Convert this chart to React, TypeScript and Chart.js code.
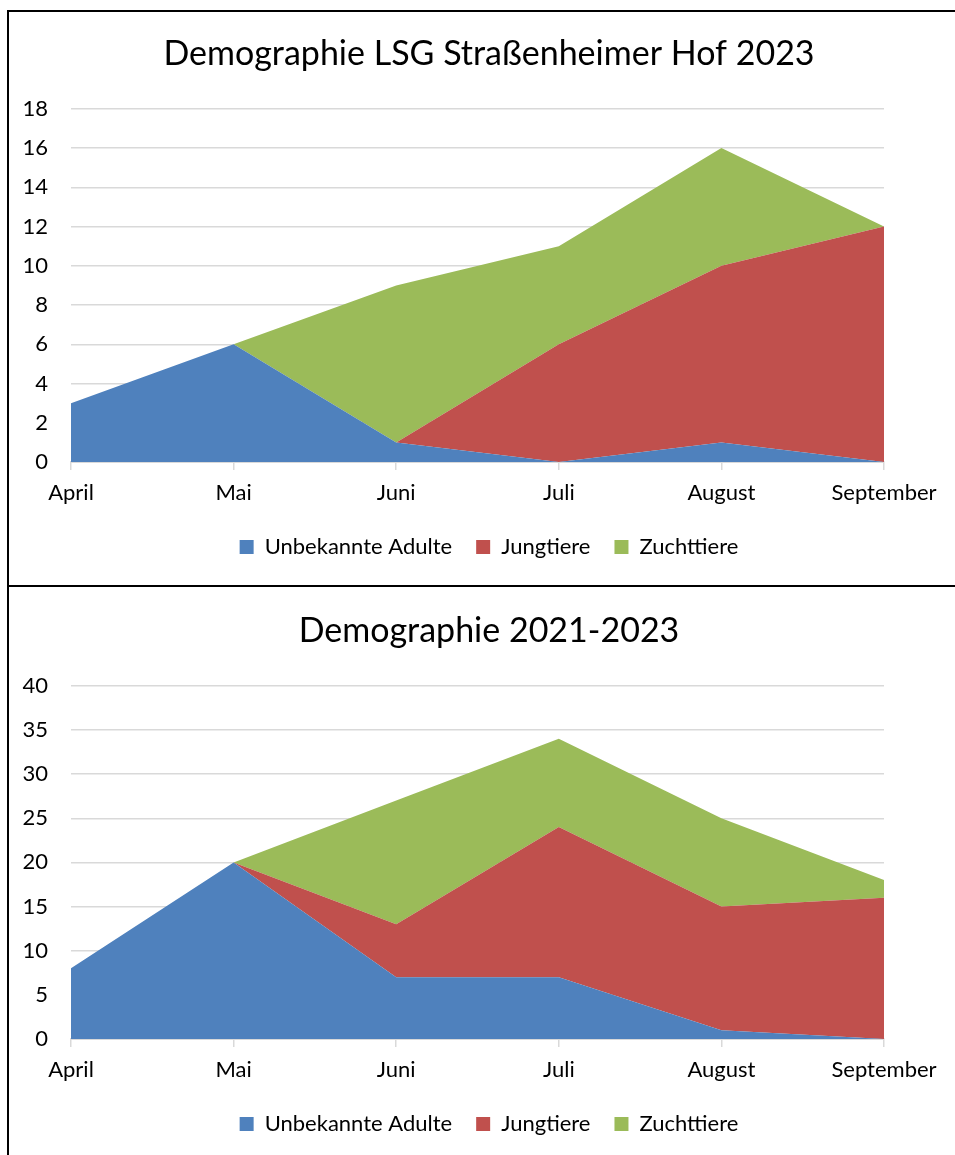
import React, { useEffect, useRef } from 'react';
import { Chart, registerables } from 'chart.js';

Chart.register(...registerables);

const categories = ['April', 'Mai', 'Juni', 'Juli', 'August', 'September'];
const seriesNames = ['Unbekannte Adulte', 'Jungtiere', 'Zuchttiere'];

// 2023 (stacked contributions)
const adulte2023 = [3, 6, 1, 0, 1, 0];
const jung2023 = [0, 0, 0, 6, 9, 12];
const zucht2023 = [0, 0, 8, 5, 6, 0];

// 2021-2023 (stacked contributions)
const adulteAll = [8, 20, 7, 7, 1, 0];
const jungAll = [0, 0, 6, 17, 14, 16];
const zuchtAll = [0, 0, 14, 10, 10, 2];

const BLUE = '#4F81BD';
const RED = '#C0504D';
const GREEN = '#9BBB59';
const GRID = '#D9D9D9';
const FONT = 'Lato';

const CANVAS_W = 960;
const CANVAS_H = 573;

type Props = {
  title: string;
  adulte: number[];
  jung: number[];
  zucht: number[];
  max: number;
  step: number;
  shift: number;
};

function AreaChart({ title, adulte, jung, zucht, max, step, shift }: Props) {
  const ref = useRef<HTMLCanvasElement>(null);
  useEffect(() => {
    const mk = (label: string, data: number[], color: string, fill: any) => ({
      label,
      data,
      backgroundColor: color,
      borderColor: color,
      borderWidth: 0,
      fill,
      pointRadius: 0,
      pointHoverRadius: 0,
      tension: 0,
    });
    const chart = new Chart(ref.current!, {
      type: 'line',
      data: {
        labels: categories,
        datasets: [
          mk(seriesNames[0], adulte, BLUE, 'origin'),
          mk(seriesNames[1], jung, RED, '-1'),
          mk(seriesNames[2], zucht, GREEN, '-1'),
        ],
      },
      options: {
        responsive: false,
        animation: false,
        devicePixelRatio: 1,
        layout: { padding: { top: 0, left: 0, right: 0, bottom: 17 } },
        plugins: {
          title: {
            display: true,
            text: title,
            color: '#000',
            font: { family: FONT, size: 34, weight: 'normal' },
            padding: { top: 22, bottom: 34 },
          },
          legend: {
            position: 'bottom',
            labels: {
              boxWidth: 14,
              boxHeight: 14,
              padding: 24,
              color: '#000',
              font: { family: FONT, size: 22 },
            },
          },
          tooltip: { enabled: false },
        },
        scales: {
          x: {
            offset: false,
            grid: {
              drawOnChartArea: false,
              drawTicks: true,
              tickLength: 8,
              color: GRID,
              lineWidth: 1.5,
            },
            border: { color: GRID, width: 2 },
            ticks: {
              padding: 10,
              color: '#000',
              font: { family: FONT, size: 22 },
              maxRotation: 0,
              autoSkip: false,
            },
            afterFit: (s: any) => {
              s.height = 50;
              s.paddingLeft = 0;
              s.paddingRight = 85;
            },
          },
          y: {
            stacked: true,
            min: 0,
            max,
            ticks: {
              stepSize: step,
              padding: 23,
              color: '#000',
              font: { family: FONT, size: 22 },
            },
            grid: { color: GRID, lineWidth: 1.5, drawTicks: false },
            border: { display: false },
            afterFit: (s: any) => {
              s.width = 62;
              s.paddingTop = 0;
              s.paddingBottom = 0;
            },
          },
        },
      } as any,
    });
    return () => chart.destroy();
  }, []);
  return (
    <canvas
      ref={ref}
      width={CANVAS_W}
      height={CANVAS_H}
      style={{ display: 'block', marginTop: shift }}
    />
  );
}

const boxStyle = (top: number): React.CSSProperties => ({
  position: 'absolute',
  left: 7,
  top,
  width: 990,
  height: 577,
  boxSizing: 'border-box',
  border: '2px solid #000',
  background: '#fff',
  overflow: 'hidden',
});

export default function App() {
  return (
    <div style={{ position: 'absolute', left: 0, top: 0, width: 955, height: 1155, overflow: 'hidden', background: '#fff' }}>
      <div style={boxStyle(10)}>
        <AreaChart title="Demographie LSG Straßenheimer Hof 2023" adulte={adulte2023} jung={jung2023} zucht={zucht2023} max={18} step={2} shift={0} />
      </div>
      <div style={boxStyle(585)}>
        <AreaChart title="Demographie 2021-2023" adulte={adulteAll} jung={jungAll} zucht={zuchtAll} max={40} step={5} shift={2} />
      </div>
    </div>
  );
}
